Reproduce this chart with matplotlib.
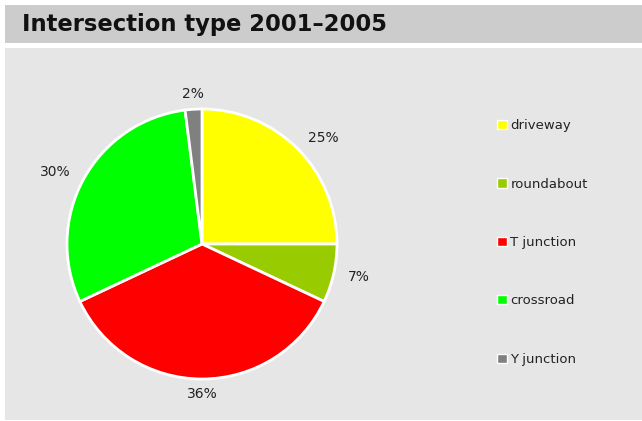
import matplotlib
matplotlib.use("Agg")
import matplotlib.pyplot as plt
import numpy as np
from matplotlib.patches import Rectangle, Patch

categories = ["driveway", "roundabout", "T junction", "crossroad", "Y junction"]
shares = [25, 7, 36, 30, 2]
colors = ["#ffff00", "#99cc00", "#ff0000", "#00ff00", "#808080"]
title = "Intersection type 2001\u20132005"

W, H = 642, 421
fig = plt.figure(figsize=(W / 100, H / 100), dpi=100, facecolor="white")

def fx(px):
    return px / W

def fy(py):
    return 1 - py / H

# background bands
fig.patches.append(Rectangle((fx(5), fy(43)), fx(637), 38 / H, transform=fig.transFigure,
                             facecolor="#cccccc", edgecolor="none", zorder=-10))
fig.patches.append(Rectangle((fx(5), fy(420)), fx(637), 372 / H, transform=fig.transFigure,
                             facecolor="#e6e6e6", edgecolor="none", zorder=-10))
fig.text(fx(22), fy(25), title, fontsize=16.3, fontweight="bold", va="center", ha="left",
         color="#111111")

cx, cy, r = 202, 244, 135
ax = fig.add_axes([fx(cx - r), fy(cy + r), 2 * r / W, 2 * r / H])
ax.set_facecolor("none")
wedges, texts = ax.pie(shares, colors=colors, startangle=90, counterclock=False,
                       labels=[f"{v}%" for v in shares], labeldistance=1.11,
                       wedgeprops=dict(edgecolor="white", linewidth=2),
                       textprops=dict(fontsize=10, color="#222222"))
# labels near the vertical axis sit centred over/under their slice
for t in texts:
    x, y = t.get_position()
    if abs(x) < 0.25:
        t.set_ha("center")
ax.set_xlim(-1, 1)
ax.set_ylim(-1, 1)
ax.set_aspect("equal")

handles = [Patch(facecolor=c, edgecolor="white", linewidth=1) for c in colors]
leg = fig.legend(handles, categories, loc="upper left", bbox_to_anchor=(fx(492), fy(114)),
                 frameon=False, fontsize=9.5, handlelength=0.7, handleheight=0.7,
                 handletextpad=0.3, labelspacing=3.44, borderaxespad=0)
for t in leg.get_texts():
    t.set_color("#222222")

fig.savefig("out.png", dpi=100, facecolor="white")
